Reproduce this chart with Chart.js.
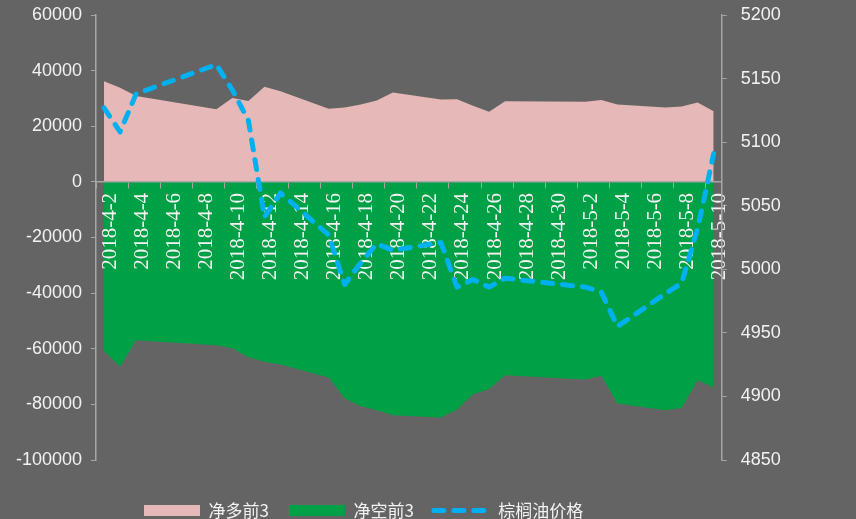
<!DOCTYPE html>
<html>
<head>
<meta charset="utf-8">
<script src="https://cdn.jsdelivr.net/npm/chart.js@4.4.0/dist/chart.umd.min.js"></script>
<style>
  html, body { margin: 0; padding: 0; background: #646464; overflow: hidden; }
  canvas { display: block; }
</style>
</head>
<body>
<canvas id="chart" width="856" height="529"></canvas>
<script>
// calendar days on the axis; non-trading days carry no value (null)
const dates = [
  "2018-4-2", "2018-4-3", "2018-4-4", "2018-4-5", "2018-4-6", "2018-4-7", "2018-4-8",
  "2018-4-9", "2018-4-10", "2018-4-11", "2018-4-12", "2018-4-13", "2018-4-14", "2018-4-15",
  "2018-4-16", "2018-4-17", "2018-4-18", "2018-4-19", "2018-4-20", "2018-4-21", "2018-4-22",
  "2018-4-23", "2018-4-24", "2018-4-25", "2018-4-26", "2018-4-27", "2018-4-28", "2018-4-29",
  "2018-4-30", "2018-5-1", "2018-5-2", "2018-5-3", "2018-5-4", "2018-5-5", "2018-5-6",
  "2018-5-7", "2018-5-8", "2018-5-9", "2018-5-10"
];

const netLong = [
  36200, 33800, 30900, null, null, null, null,
  26100, 30200, 29100, 34200, 32600, null, null,
  26300, 26700, 27800, 29300, 32100, null, null,
  29600, 29700, 27400, 25200, 29000, null, null,
  null, null, 28800, 29400, 27800, null, null,
  26700, 27100, 28500, 25400
];

const netShort = [
  -60800, -66500, -56900, null, null, null, null,
  -58700, -59800, -63100, -64700, -65700, null, null,
  -70300, -77900, -80600, -82100, -83900, null, null,
  -84700, -81800, -76400, -74500, -69500, null, null,
  null, null, -71100, -69700, -79700, null, null,
  -82100, -81300, -71300, -73900
];

const palmPrice = [
  5127, 5108, 5138, null, null, null, null,
  5161, 5141, 5117, 5041, 5060, null, null,
  5027, 4988, 5005, 5020, 5015, null, null,
  5021, 4986, 4992, 4986, 4993, null, null,
  null, null, 4986, 4982, 4955, null, null,
  4981, 4989, 5032, 5091
];

const seriesNames = ["净多前3", "净空前3", "棕榈油价格"];

const axisGray = "#a6a6a6";
const textColor = "#f2f2f2";

// move the legend row to where it sits in the original
const legendShift = {
  id: "legendShift",
  afterLayout(chart) {
    chart.legend.left += 124;
    chart.legend.right += 124;
  }
};

new Chart(document.getElementById("chart"), {
  type: "line",
  data: {
    labels: dates,
    datasets: [
      {
        label: seriesNames[0],
        data: netLong,
        yAxisID: "y",
        fill: "origin",
        backgroundColor: "#e6b9b8",
        borderColor: "rgba(0,0,0,0)",
        borderWidth: 0,
        pointRadius: 0,
        pointStyle: "rect",
        spanGaps: true,
        order: 2
      },
      {
        label: seriesNames[1],
        data: netShort,
        yAxisID: "y",
        fill: "origin",
        backgroundColor: "#00a046",
        borderColor: "rgba(0,0,0,0)",
        borderWidth: 0,
        pointRadius: 0,
        pointStyle: "rect",
        spanGaps: true,
        order: 1
      },
      {
        label: seriesNames[2],
        data: palmPrice,
        yAxisID: "y1",
        fill: false,
        backgroundColor: "rgba(0,0,0,0)",
        borderColor: "#00b0f0",
        borderWidth: 5,
        borderDash: [10, 10],
        borderCapStyle: "round",
        borderJoinStyle: "round",
        pointRadius: 0,
        pointStyle: "line",
        spanGaps: true,
        order: 0
      }
    ]
  },
  options: {
    responsive: false,
    animation: false,
    layout: { padding: { top: 15, left: 0, right: 0, bottom: 0 } },
    plugins: {
      tooltip: { enabled: false },
      // areas go under the axis labels, the price line stays above them
      filler: { drawTime: "beforeDraw" },
      legend: {
        position: "bottom",
        align: "start",
        title: { display: true, text: "", font: { size: 10 }, padding: { top: 10, bottom: 0 } },
        labels: {
          usePointStyle: true,
          pointStyleWidth: 56,
          boxHeight: 11,
          padding: 20,
          color: textColor,
          font: { family: "'Noto Sans CJK SC'", size: 17 },
          sort: (a, b) => a.datasetIndex - b.datasetIndex,
          generateLabels(chart) {
            const items = Chart.defaults.plugins.legend.labels.generateLabels(chart);
            items.forEach(item => {
              const ds = chart.data.datasets[item.datasetIndex];
              item.fillStyle = ds.backgroundColor;
              item.strokeStyle = ds.borderColor;
              item.lineWidth = ds.borderWidth;
              item.lineDash = ds.borderDash || [];
              item.lineCap = ds.borderCapStyle || "butt";
            });
            return items;
          }
        }
      }
    },
    scales: {
      x: {
        position: { y: 0 },
        offset: true,
        grid: {
          offset: true,
          drawOnChartArea: false,
          tickLength: 6,
          color: ctx => ctx.index % 2 === 0 ? axisGray : "rgba(0,0,0,0)"
        },
        border: { color: axisGray, width: 1.5 },
        ticks: {
          autoSkip: false,
          minRotation: 90,
          maxRotation: 90,
          padding: 5,
          labelOffset: 6,
          color: textColor,
          font: { family: "'Liberation Serif'", size: 21 },
          callback: (v, i) => i % 2 === 0 ? dates[i] : ""
        }
      },
      y: {
        position: "left",
        min: -100000,
        max: 60000,
        grid: { drawOnChartArea: false, tickLength: 5, color: axisGray },
        border: { color: axisGray, width: 1.5 },
        ticks: {
          stepSize: 20000,
          padding: 9,
          color: textColor,
          font: { family: "'Liberation Sans'", size: 18 },
          callback: v => String(v)
        },
        afterFit(scale) {
          scale.width = 96;
          scale.paddingTop = 0;
          scale.paddingBottom = 0;
        }
      },
      y1: {
        position: "right",
        min: 4850,
        max: 5200,
        grid: { drawOnChartArea: false, tickLength: 5, color: axisGray },
        border: { color: axisGray, width: 1.5 },
        ticks: {
          stepSize: 50,
          padding: 14,
          color: textColor,
          font: { family: "'Liberation Sans'", size: 18 },
          callback: v => String(v)
        },
        afterFit(scale) {
          scale.width = 134.3;
          scale.paddingTop = 0;
          scale.paddingBottom = 0;
        }
      }
    }
  },
  plugins: [legendShift]
});
</script>
</body>
</html>
